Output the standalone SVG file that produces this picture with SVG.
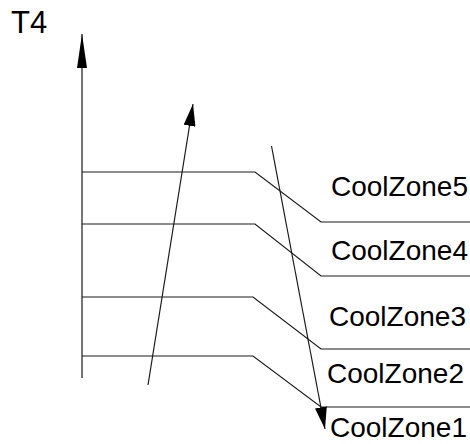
<svg xmlns="http://www.w3.org/2000/svg" width="470" height="444" viewBox="0 0 470 444">
  <style>
    .ln { fill: none; stroke: #1a1a1a; stroke-width: 1.2; }
    .lbl { font-family: "Liberation Sans", Arial, sans-serif; font-size: 28px; fill: #000; }
    .title { font-family: "Liberation Sans", Arial, sans-serif; font-size: 31px; fill: #000; }
  </style>
  <defs>
    <marker id="headLong" markerUnits="userSpaceOnUse" viewBox="0 0 34 10" refX="34" refY="5" markerWidth="34" markerHeight="10" orient="auto">
      <path d="M0,0 L34,5 L0,10 Z" fill="#000"/>
    </marker>
    <marker id="head" markerUnits="userSpaceOnUse" viewBox="0 0 22 12" refX="22" refY="6" markerWidth="22" markerHeight="12" orient="auto">
      <path d="M0,0 L22,6 L0,12 Z" fill="#000"/>
    </marker>
  </defs>
  <rect width="470" height="444" fill="#fff"/>

  <g id="axis">
    <text class="title" x="11" y="33">T4</text>
    <line class="ln" x1="82" y1="378" x2="82" y2="34" marker-end="url(#headLong)"/>
  </g>

  <g id="zone5">
    <polyline class="ln" points="82,172 255,172 321,222 470,222"/>
    <text class="lbl" x="331" y="196">CoolZone5</text>
  </g>
  <g id="zone4">
    <polyline class="ln" points="82,224 255,224 321,276 470,276"/>
    <text class="lbl" x="331" y="260">CoolZone4</text>
  </g>
  <g id="zone3">
    <polyline class="ln" points="82,297 253,297 321,349 470,349"/>
    <text class="lbl" x="329" y="326">CoolZone3</text>
  </g>
  <g id="zone2">
    <polyline class="ln" points="82,356 253,356 321,407 470,407"/>
    <text class="lbl" x="327" y="383">CoolZone2</text>
  </g>
  <g id="zone1">
    <text class="lbl" x="330" y="437">CoolZone1</text>
  </g>

  <g id="connectors">
    <line class="ln" x1="148" y1="385" x2="193" y2="104" marker-end="url(#head)"/>
    <line class="ln" x1="271.5" y1="146" x2="325" y2="429" marker-end="url(#head)"/>
  </g>
</svg>
